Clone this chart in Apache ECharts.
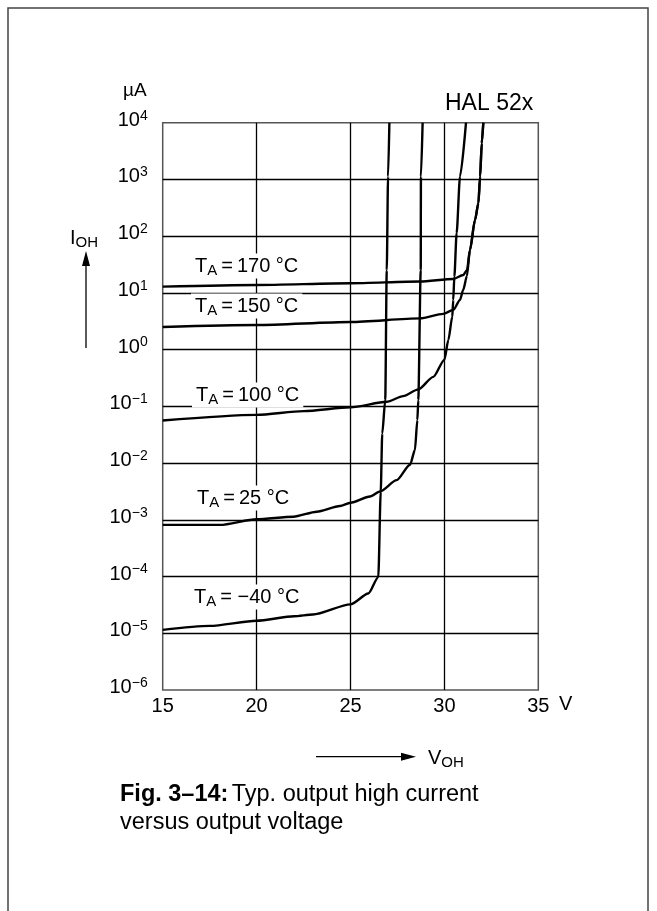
<!DOCTYPE html>
<html lang="en">
<head>
    <meta charset="UTF-8">
    <title>HAL 52x - output high current</title>
    <style>
        * { margin: 0; padding: 0; }
        body { background: #fff; }
        #charts { width: 657px; height: 911px; }
    </style>
    <script src="https://cdn.jsdelivr.net/npm/echarts@6/dist/echarts.min.js"></script>
</head>
<body>
<div id="charts"></div>
<script>
    // tick labels
    var xTickLabels = ['15', '20', '25', '30', '35'];
    var yTickExponents = ['\u22126', '\u22125', '\u22124', '\u22123', '\u22122', '\u22121', '0', '1', '2', '3', '4'];

    // curves: V_OH in volts, I_OH as log10 of uA
    var vM40 = [15, 17.5, 20, 22, 23, 25, 25.95, 26.48, 26.61, 26.69, 26.85, 26.93, 27.0, 27.07];
    var iM40 = [-4.94, -4.87, -4.78, -4.70, -4.67, -4.49, -4.30, -4.01, -2.50, -1.48, -0.89, 1.40, 3.05, 4.0];

    var v25 = [15, 18.05, 20, 21.96, 23.2, 24.44, 25, 26.04, 26.57, 27.46, 28.17, 28.43, 28.56, 28.61, 28.74, 28.75, 28.84];
    var i25 = [-3.09, -3.09, -2.99, -2.945, -2.857, -2.757, -2.70, -2.59, -2.50, -2.30, -2.03, -1.77, -1.24, -0.89, 1.40, 3.05, 4.0];

    var v100 = [15, 20, 22.5, 25, 26.93, 27.8, 28.61, 29.41, 30.0, 30.21, 30.42, 30.47, 30.53, 30.65, 30.83, 31.15];
    var i100 = [-1.25, -1.15, -1.085, -1.017, -0.92, -0.82, -0.70, -0.48, -0.18, 0.17, 0.58, 0.875, 1.285, 2.05, 3.05, 4.0];

    var v150 = [15, 20, 25, 28.7, 29.94, 30.47, 30.83, 31.0, 31.2, 31.36, 31.63, 31.81, 31.9, 31.99, 32.07];
    var i150 = [0.40, 0.434, 0.487, 0.55, 0.63, 0.70, 0.875, 1.05, 1.30, 1.755, 2.285, 2.58, 3.05, 3.64, 4.0];

    var v170 = [15, 20, 25, 28.7, 30.47, 31.0, 31.2, 31.36, 31.63, 31.81, 31.9, 31.99, 32.07];
    var i170 = [1.11, 1.14, 1.17, 1.20, 1.245, 1.315, 1.40, 1.755, 2.285, 2.58, 3.05, 3.64, 4.0];

    var curveNames = ['\u221240', '25', '100', '150', '170'];

    var FONT = '"Liberation Sans", Arial, Helvetica, sans-serif';

    function pairs(xs, ys) {
        var out = [];
        for (var i = 0; i < xs.length; i++) out.push([xs[i], ys[i]]);
        return out;
    }

    function curve(name, xs, ys) {
        return {
            name: name,
            type: 'line',
            data: pairs(xs, ys),
            showSymbol: false,
            smooth: 0.25,
            smoothMonotone: 'x',
            silent: true,
            z: 3,
            lineStyle: { color: '#000', width: 2.4 }
        };
    }

    var subRich = {
        t: { fontSize: 20, lineHeight: 21, fontFamily: FONT, color: '#000' },
        s: { fontSize: 15, lineHeight: 12, padding: [9, 0, 0, 0], fontFamily: FONT, color: '#000' }
    };

    // curve label with white box that cuts the grid lines
    function tempLabel(text, x, y) {
        return {
            type: 'text',
            x: x,
            y: y,
            z: 1,
            silent: true,
            style: {
                text: '{t|T}{s|A}{t|' + text + '}',
                rich: subRich,
                backgroundColor: '#fff',
                padding: [2, 4, 2, 4],
                textVerticalAlign: 'middle'
            }
        };
    }

    var option = {
        animation: false,
        grid: {
            left: 162.7,
            top: 122.7,
            right: 118.7,
            bottom: 221,
            show: true,
            borderColor: '#555',
            borderWidth: 1.5
        },
        xAxis: {
            type: 'value',
            min: 15,
            max: 35,
            interval: 5,
            axisLine: { show: false },
            axisTick: { show: false },
            splitLine: { showMinLine: false, showMaxLine: false, lineStyle: { color: '#000', width: 1.3 } },
            axisLabel: {
                margin: 6,
                fontSize: 20,
                color: '#000',
                fontFamily: FONT,
                formatter: function (v) { return xTickLabels[Math.round((v - 15) / 5)]; }
            }
        },
        yAxis: {
            type: 'value',
            min: -6,
            max: 4,
            interval: 1,
            axisLine: { show: false },
            axisTick: { show: false },
            splitLine: { showMinLine: false, showMaxLine: false, lineStyle: { color: '#000', width: 1.3 } },
            axisLabel: {
                margin: 15,
                padding: [0, 0, 5, 0],
                formatter: function (v) { return '{b|10}{p|' + yTickExponents[Math.round(v) + 6] + '}'; },
                rich: {
                    b: { fontSize: 20, lineHeight: 20, fontFamily: FONT, color: '#000' },
                    p: { fontSize: 14, lineHeight: 14, padding: [0, 0, 9, 0], fontFamily: FONT, color: '#000' }
                }
            }
        },
        graphic: [
            // outer frame
            { type: 'rect', z: 0, silent: true, shape: { x: 8, y: 8, width: 640, height: 920 },
              style: { fill: null, stroke: '#444', lineWidth: 1.5 } },
            { type: 'text', x: 123, y: 91, silent: true,
              style: { text: '\u00b5A', font: '19px ' + FONT, fill: '#000', textVerticalAlign: 'middle' } },
            { type: 'text', x: 445, y: 104, silent: true,
              style: { text: 'HAL 52x', font: '23px ' + FONT, fill: '#000', textVerticalAlign: 'middle' } },
            { type: 'text', x: 559, y: 704, silent: true,
              style: { text: 'V', font: '20px ' + FONT, fill: '#000', textVerticalAlign: 'middle' } },
            // I_OH with arrow
            { type: 'text', x: 70, y: 238, silent: true,
              style: { text: '{t|I}{s|OH}', rich: subRich, textVerticalAlign: 'middle' } },
            { type: 'line', silent: true, shape: { x1: 86, y1: 348, x2: 86, y2: 262 },
              style: { stroke: '#000', lineWidth: 1.3 } },
            { type: 'polygon', silent: true, shape: { points: [[86, 251], [82, 266], [90, 266]] },
              style: { fill: '#000' } },
            // V_OH with arrow
            { type: 'line', silent: true, shape: { x1: 316, y1: 756.7, x2: 405, y2: 756.7 },
              style: { stroke: '#000', lineWidth: 1.3 } },
            { type: 'polygon', silent: true, shape: { points: [[416, 756.7], [401, 752.7], [401, 760.7]] },
              style: { fill: '#000' } },
            { type: 'text', x: 428, y: 758, silent: true,
              style: { text: '{t|V}{s|OH}', rich: subRich, textVerticalAlign: 'middle' } },
            // caption
            { type: 'text', x: 120, y: 795, silent: true,
              style: {
                  text: '{b|Fig. 3\u201314:} {r|Typ. output high current}',
                  rich: {
                      b: { fontSize: 23.5, fontWeight: 'bold', fontFamily: FONT, color: '#000' },
                      r: { fontSize: 23.5, fontFamily: FONT, color: '#000' }
                  },
                  textVerticalAlign: 'middle'
              } },
            { type: 'text', x: 120, y: 823, silent: true,
              style: { text: 'versus output voltage', font: '23.5px ' + FONT, fill: '#000', textVerticalAlign: 'middle' } },
            tempLabel('\u2009=\u2009170 \u00b0C', 191, 266),
            tempLabel('\u2009=\u2009150 \u00b0C', 191, 306),
            tempLabel('\u2009=\u2009100 \u00b0C', 192, 395),
            tempLabel('\u2009=\u200925 \u00b0C', 193, 498),
            tempLabel('\u2009= ' + curveNames[0] + ' \u00b0C', 190, 597)
        ],
        series: [
            curve(curveNames[0], vM40, iM40),
            curve(curveNames[1], v25, i25),
            curve(curveNames[2], v100, i100),
            curve(curveNames[3], v150, i150),
            curve(curveNames[4], v170, i170)
        ]
    };

    var myChart = echarts.init(document.getElementById('charts'));
    myChart.setOption(option);
</script>
</body>
</html>
